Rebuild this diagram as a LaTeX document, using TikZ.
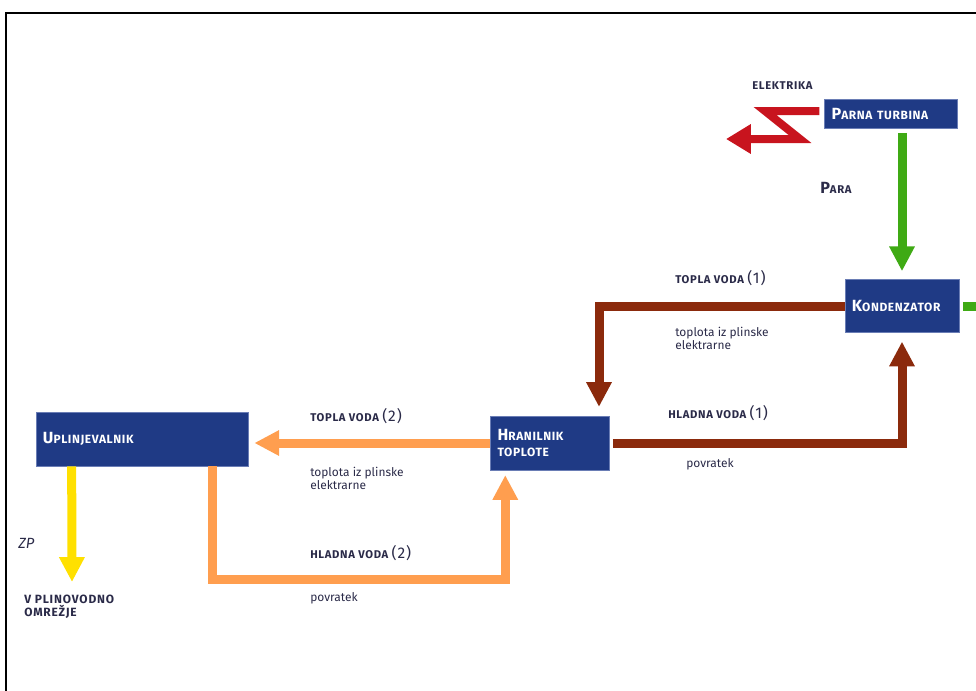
\documentclass[tikz,border=0pt]{standalone}
\usepackage{fontspec}
\setmainfont{Fira Sans}
\setsansfont{Fira Sans}
\usetikzlibrary{arrows.meta,positioning}
\definecolor{unitblue}{HTML}{1F3A85}
\definecolor{unitborder}{HTML}{6A7DB5}
\definecolor{hotbrown}{HTML}{8B2A0C}
\definecolor{warmorange}{HTML}{FF9E4F}
\definecolor{steamgreen}{HTML}{3FAA14}
\definecolor{gasyellow}{HTML}{FFE000}
\definecolor{powerred}{HTML}{C8141E}
\definecolor{textdark}{HTML}{2A2A48}
\newcommand{\capfirst}[1]{{\fontsize{11.5}{12}\selectfont #1}}
\newcommand{\capsmall}[1]{{\fontsize{8.5}{12}\selectfont\addfontfeature{LetterSpace=5} #1}}
\newcommand{\numtag}[1]{{\mdseries\fontsize{11}{12}\selectfont #1}}

\begin{document}
\begin{tikzpicture}[
  x=0.025cm, y=-0.025cm,
  font=\sffamily,
  unit/.style={rectangle, draw=unitborder, line width=0.4pt, fill=unitblue, text=white, font=\sffamily\bfseries, align=left, inner xsep=5pt, inner ysep=2pt},
  flowlabel/.style={anchor=west, inner sep=0pt, text=textdark, font=\sffamily\bfseries\fontsize{8}{9}\selectfont\addfontfeature{LetterSpace=6}},
  notelabel/.style={anchor=west, inner sep=0pt, text=textdark, align=left, font=\sffamily\fontsize{8.5}{6.5}\selectfont},
  pipe/.style={line width=0.225cm, -{Triangle[length=0.62cm, width=0.6cm]}},
  hotpipe/.style={pipe, draw=hotbrown},
  warmpipe/.style={pipe, draw=warmorange},
  steampipe/.style={pipe, draw=steamgreen},
  gaspipe/.style={pipe, draw=gasyellow},
  powerline/.style={line width=0.2cm, draw=powerred, -{Triangle[length=0.62cm, width=0.7cm]}}
]
\useasboundingbox (0,0) rectangle (976,691);
\draw[line width=1.6pt] (976,13) -- (6,13) -- (6,691);

% units
\node[unit, text width=2.97cm, minimum height=0.725cm] (turbina) at (891,114) {\capfirst{P}\capsmall{ARNA TURBINA}};
\node[unit, text width=2.5cm, minimum height=1.325cm] (kondenzator) at (902,306) {\capfirst{K}\capsmall{ONDENZATOR}};
\node[unit, text width=2.62cm, minimum height=1.35cm] (hranilnik) at (550,443) {\capfirst{H}\capsmall{RANILNIK}\\\capsmall{TOPLOTE}};
\node[unit, text width=4.95cm, minimum height=1.35cm] (uplinjevalnik) at (142,439) {\capfirst{U}\capsmall{PLINJEVALNIK}};

% bends and free ends
\coordinate (bolt1) at (765,111);
\coordinate (bolt2) at (800,139);
\coordinate (elout) at (726,139);
\coordinate (tvbend) at (599,306);
\coordinate (hvbot) at (0,579);
\coordinate (gout) at (976,306);
\coordinate (zpout) at (72,582);

% labels
\node[flowlabel] (elektrika) at (752,86) {ELEKTRIKA};
\node[flowlabel] (para) at (820,188) {\capfirst{P}ARA};
\node[flowlabel] (tv1) at (675,278) {TOPLA VODA \numtag{(1)}};
\node[notelabel] (vir1) at (675,338) {toplota iz plinske\\elektrarne};
\node[flowlabel] (hv1) at (668,413) {HLADNA VODA \numtag{(1)}};
\node[notelabel] (pov1) at (686,464) {povratek};
\node[flowlabel] (tv2) at (310,416) {TOPLA VODA \numtag{(2)}};
\node[notelabel] (vir2) at (310,478) {toplota iz plinske\\elektrarne};
\node[flowlabel] (hv2) at (310,553) {HLADNA VODA \numtag{(2)}};
\node[notelabel] (pov2) at (310,598) {povratek};
\node[anchor=west, inner sep=0pt, text=textdark, font=\sffamily\itshape\fontsize{10.5}{12}\selectfont] (zp) at (18,543) {ZP};
\node[flowlabel, align=left, font=\sffamily\bfseries\fontsize{8.5}{7}\selectfont\addfontfeature{LetterSpace=7}] (omrezje) at (24,607) {V PLINOVODNO\\OMREŽJE};

% connectors
\draw[powerline, shorten <=0.12cm] (turbina.west |- bolt1) -- (bolt1) -- (bolt2) -- (elout);
\draw[steampipe, shorten <=0.1cm, shorten >=0.2cm] (turbina.south -| kondenzator.north) -- (kondenzator.north);
\draw[steampipe, -, shorten <=0.1cm] (kondenzator.east) -- (gout);
\draw[hotpipe, shorten >=0.22cm] (kondenzator.west) -- (tvbend) -- (tvbend |- hranilnik.north);
\draw[hotpipe, shorten <=0.08cm, shorten >=0.22cm] (hranilnik.east) -| (kondenzator.south);
\draw[warmpipe, shorten >=0.15cm] (hranilnik.west) -- (hranilnik.west -| uplinjevalnik.east);
\draw[warmpipe, shorten >=0.12cm] ([xshift=-0.9cm]uplinjevalnik.south east) -- ([xshift=-0.9cm]uplinjevalnik.south east |- hvbot) -| ([xshift=0.375cm]hranilnik.south west);
\draw[gaspipe] ([xshift=0.9cm]uplinjevalnik.south west) -- (zpout);

\end{tikzpicture}
\end{document}
